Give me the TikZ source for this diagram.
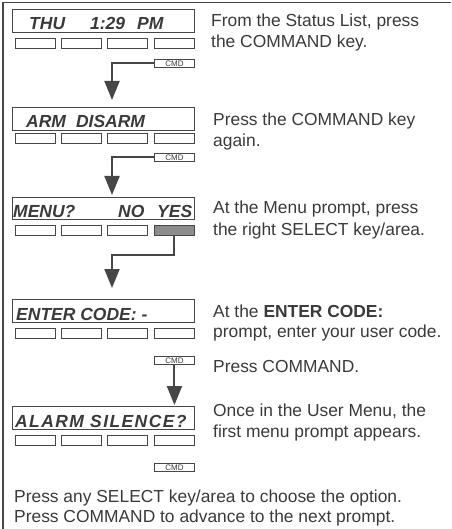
\documentclass[tikz,border=0pt]{standalone}
\usepackage{fontspec}
\setmainfont{Liberation Sans}
\usetikzlibrary{arrows.meta}
\definecolor{ink}{RGB}{70,70,70}
\definecolor{txt}{RGB}{58,58,58}
\definecolor{shade}{RGB}{140,140,140}
\begin{document}
\begin{tikzpicture}[x=1pt,y=-1pt,
  disp/.style={draw=ink, line width=1.3pt, minimum width=182pt, minimum height=23pt, inner sep=0pt, anchor=north west},
  keybox/.style={draw=ink, line width=0.9pt, minimum width=40pt, minimum height=10pt, inner sep=0pt, anchor=north west},
  cmdbox/.style={draw=ink, line width=0.9pt, minimum width=40pt, minimum height=8pt, inner sep=0pt, anchor=north west, font=\fontsize{8}{8}\selectfont, text=txt},
  lcd/.style={anchor=base west, inner sep=0pt, font=\fontsize{17.5}{17.5}\selectfont\bfseries\itshape, text=txt},
  desc/.style={anchor=base west, inner sep=0pt, font=\fontsize{17.4}{21}\selectfont, text=txt},
  flow/.style={draw=ink, line width=2pt, -{Triangle[width=15pt,length=19pt]}}
]
\useasboundingbox (0,0) rectangle (451,529);
% frame
\draw[ink, line width=1.2pt] (451,2.5) -- (3,2.5) -- (3,529);

% ---------- step 1
\node[disp] (d1) at (12,9) {};
\node[lcd] (t1) at (29,30) {THU\hspace{25pt}1:29\hspace{12pt}PM};
\foreach \x [count=\i] in {15,61,107,154} \node[keybox] (k1\i) at (\x,38) {};
\node[cmdbox] (c1) at (154,59) {CMD};
\node[desc] (r11) at (211,27) {From the Status List, press};
\node[desc] (r12) at (211,48) {the COMMAND key.};

% ---------- step 2
\node[disp] (d2) at (12,107) {};
\node[lcd] (t2) at (26,128) {ARM\hspace{10pt}DISARM};
\foreach \x [count=\i] in {15,61,107,154} \node[keybox] (k2\i) at (\x,133) {};
\node[cmdbox] (c2) at (154,153) {CMD};
\node[desc] (r21) at (213,126) {Press the COMMAND key};
\node[desc] (r22) at (213,147) {again.};

% ---------- step 3
\node[disp, minimum height=22pt] (d3) at (12,197) {};
\node[lcd] (t3a) at (13,217) {MENU?};
\node[lcd] (t3b) at (118,217) {NO};
\node[lcd] (t3c) at (157,217) {YES};
\foreach \x [count=\i] in {15,61,107} \node[keybox] (k3\i) at (\x,225) {};
\node[keybox, fill=shade] (k34) at (154,225) {};
\node[desc] (r31) at (213,213) {At the Menu prompt, press};
\node[desc] (r32) at (213,235) {the right SELECT key/area.};

% ---------- step 4
\node[disp] (d4) at (12,299) {};
\node[lcd] (t4) at (16,320) {ENTER CODE: -};
\foreach \x [count=\i] in {15,61,107,154} \node[keybox] (k4\i) at (\x,328) {};
\node[cmdbox] (c4) at (154,356) {CMD};
\node[desc] (r41) at (213,317) {At the \textbf{ENTER CODE:}};
\node[desc] (r42) at (213,337) {prompt, enter your user code.};
\node[desc] (r43) at (213,372) {Press COMMAND.};

% ---------- step 5
\node[disp] (d5) at (12,406) {};
\node[lcd] (t5) at (15,427) {\addfontfeature{LetterSpace=8}ALARM SILENCE?};
\foreach \x [count=\i] in {15,61,107,154} \node[keybox] (k5\i) at (\x,435) {};
\node[cmdbox] (c5) at (154,463) {CMD};
\node[desc] (r51) at (213,416) {Once in the User Menu, the};
\node[desc] (r52) at (213,437) {first menu prompt appears.};

% ---------- footer
\node[desc] (f1) at (14,502) {Press any SELECT key/area to choose the option.};
\node[desc] (f2) at (14,522) {Press COMMAND to advance to the next prompt.};

% ---------- connectors
\coordinate (a1) at (112,107);
\coordinate (a2) at (112,197);
\coordinate (a3) at (112,299);
\draw[flow, shorten >=7pt] (c1.west) -| (a1);
\draw[flow, shorten >=2pt] (c2.west) -| (a2);
\draw[flow, shorten >=11pt] (k34.south) -- ++(0,19) -| (a3);
\draw[flow, shorten >=1pt] (c4.south) -- (c4.south |- d5.north);
\end{tikzpicture}
\end{document}
